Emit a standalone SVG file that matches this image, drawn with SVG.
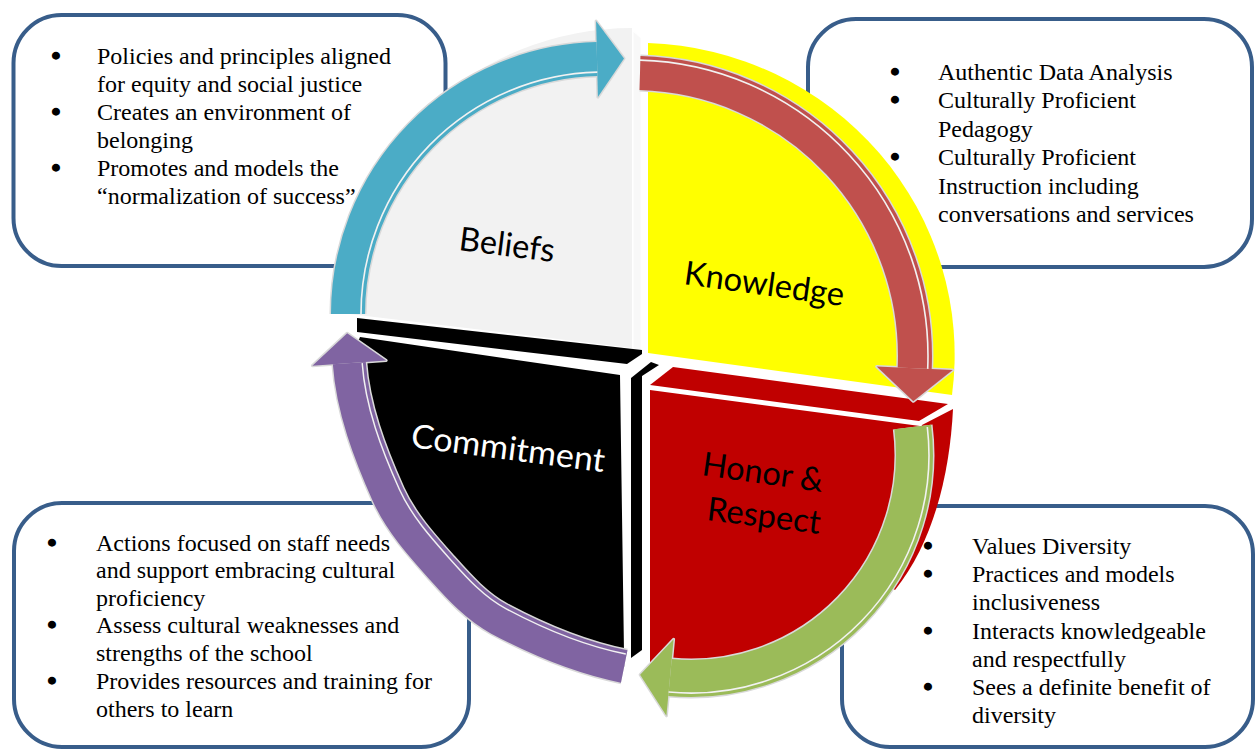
<svg xmlns="http://www.w3.org/2000/svg" width="1256" height="751" viewBox="0 0 1256 751">
<defs>
<style>
.box{fill:#FFFFFF;stroke:#385D8A;stroke-width:4}
.bt{font-family:"Liberation Serif","Times New Roman",serif;font-size:24px;fill:#000000}
.bu{font-family:"Liberation Serif","Times New Roman",serif;font-size:24px;fill:#000000;stroke:#000000;stroke-width:2.4;stroke-linejoin:round;text-anchor:middle}
.lbl{font-family:Lato,"Open Sans","DejaVu Sans",sans-serif;font-size:33px}
.ol{fill:none;stroke:#D9D9D9}
.olh{fill:#D9D9D9;stroke:#D9D9D9;stroke-width:3;stroke-linejoin:round}
.hl{fill:none;stroke:#F2F2F2;stroke-width:1.6}
</style>
</defs>
<rect x="0" y="0" width="1256" height="751" fill="#FFFFFF"/>

<g id="box-beliefs">
<rect class="box" x="13.5" y="15" width="432" height="251" rx="48"/>
<text class="bu"><tspan x="56" y="64">•</tspan><tspan x="56" y="120">•</tspan><tspan x="56" y="176">•</tspan></text>
<text class="bt" x="97" y="64">Policies and principles aligned</text>
<text class="bt" x="97" y="92">for equity and social justice</text>
<text class="bt" x="97" y="120">Creates an environment of</text>
<text class="bt" x="97" y="148">belonging</text>
<text class="bt" x="97" y="176">Promotes and models the</text>
<text class="bt" x="97" y="204">“normalization of success”</text>
</g>

<g id="box-knowledge">
<rect class="box" x="808" y="19" width="444" height="248" rx="48"/>
<text class="bu"><tspan x="895" y="80">•</tspan><tspan x="895" y="108">•</tspan><tspan x="895" y="165">•</tspan></text>
<text class="bt" x="938" y="80">Authentic Data Analysis</text>
<text class="bt" x="938" y="108">Culturally Proficient</text>
<text class="bt" x="938" y="137">Pedagogy</text>
<text class="bt" x="938" y="165">Culturally Proficient</text>
<text class="bt" x="938" y="194">Instruction including</text>
<text class="bt" x="938" y="222">conversations and services</text>
</g>

<g id="box-commitment">
<rect class="box" x="14" y="503" width="455" height="244" rx="48"/>
<text class="bu"><tspan x="52" y="550.5">•</tspan><tspan x="52" y="633">•</tspan><tspan x="52" y="689">•</tspan></text>
<text class="bt" x="96" y="550.5">Actions focused on staff needs</text>
<text class="bt" x="96" y="578">and support embracing cultural</text>
<text class="bt" x="96" y="605.5">proficiency</text>
<text class="bt" x="96" y="633">Assess cultural weaknesses and</text>
<text class="bt" x="96" y="661">strengths of the school</text>
<text class="bt" x="96" y="689">Provides resources and training for</text>
<text class="bt" x="96" y="716.5">others to learn</text>
</g>

<g id="box-honor">
<rect class="box" x="842" y="506" width="411" height="241" rx="48"/>
<text class="bu"><tspan x="928" y="554">•</tspan><tspan x="928" y="582">•</tspan><tspan x="928" y="639">•</tspan><tspan x="928" y="695">•</tspan></text>
<text class="bt" x="972" y="554">Values Diversity</text>
<text class="bt" x="972" y="582">Practices and models</text>
<text class="bt" x="972" y="610">inclusiveness</text>
<text class="bt" x="972" y="639">Interacts knowledgeable</text>
<text class="bt" x="972" y="667">and respectfully</text>
<text class="bt" x="972" y="695">Sees a definite benefit of</text>
<text class="bt" x="972" y="723">diversity</text>
</g>

<g id="node-beliefs">
<path d="M 632 348 L 333 312 A 300 300 0 0 1 632 28 Z" fill="#F2F2F2"/>
<polygon points="633,31 641,38 641,352 633,348" fill="#F8F8F8" stroke="#FFFFFF" stroke-width="1"/>
<text class="lbl" x="458" y="250" transform="rotate(7.2 458 250)" textLength="96" lengthAdjust="spacingAndGlyphs" fill="#000000">Beliefs</text>
</g>

<g id="node-knowledge">
<path d="M 648 353 L 648 43 A 318 312 0 0 1 952 395 Z" fill="#FFFF00"/>
<text class="lbl" x="683" y="284" transform="rotate(7.9 683 284)" textLength="161" lengthAdjust="spacingAndGlyphs" fill="#000000">Knowledge</text>
</g>

<g id="node-commitment">
<polygon points="357,318 642,350 642,354 627,364 357,332" fill="#000000"/>
<polygon points="631,378 651,362 659,365 642,376 642,650 631,658" fill="#000000"/>
<path d="M 360 337 L 620 375 L 624.2 666.5 C 580.6 657.7 538.3 640.1 499 619.1 C 476.5 606.9 459.2 587.9 442.2 568.8 C 422 546.2 400.6 522.6 388.1 494.9 C 369.5 453.4 352.5 408.5 349.3 363.1 Z" fill="#000000"/>
<text class="lbl" x="410" y="447" transform="rotate(7.4 410 447)" textLength="195" lengthAdjust="spacingAndGlyphs" fill="#FFFFFF">Commitment</text>
</g>

<g id="node-honor">
<polygon points="650,385 673,367 948,404 919,421" fill="#C00000"/>
<path d="M 922 425 L 953 409 C 950 470 935 540 895 590 L 880 580 Z" fill="#C00000"/>
<path d="M 650 390 L 920 426 A 226 226 0 0 1 650 674 Z" fill="#C00000"/>
<text class="lbl" x="701" y="475" transform="rotate(8 701 475)" textLength="122" lengthAdjust="spacingAndGlyphs" fill="#000000">Honor &amp;</text>
<text class="lbl" x="706" y="520" transform="rotate(7 706 520)" textLength="114" lengthAdjust="spacingAndGlyphs" fill="#000000">Respect</text>
</g>

<g id="connectors">
<g id="arrow-beliefs-knowledge">
<path class="ol" d="M 348 314 A 255 255 0 0 1 597 59.1" stroke-width="37"/>
<polygon class="olh" points="596.1,21.1 624,58.5 597.9,97.1"/>
<path d="M 348 314 A 255 255 0 0 1 597 59.1" fill="none" stroke="#4BACC6" stroke-width="34"/>
<polygon points="596.1,21.1 624,58.5 597.9,97.1" fill="#4BACC6"/>
<path class="hl" d="M 361 314 A 242 242 0 0 1 597.3 72.1"/>
</g>
<g id="arrow-knowledge-honor">
<path class="ol" d="M 640 73.1 A 283 283 0 0 1 914.7 368.3" stroke-width="37"/>
<polygon class="olh" points="952.7,370 913.3,401.3 876.7,366.6"/>
<path d="M 640 73.1 A 283 283 0 0 1 914.7 368.3" fill="none" stroke="#C0504D" stroke-width="34"/>
<polygon points="952.7,370 913.3,401.3 876.7,366.6" fill="#C0504D"/>
<path class="hl" d="M 640 60.1 A 296 296 0 0 1 927.7 368.9"/>
</g>
<g id="arrow-honor-commitment">
<path class="ol" d="M 912.7 427 A 223.5 223.5 0 0 1 670 677.5" stroke-width="40"/>
<polygon class="olh" points="673.6,639.2 640.1,674.7 666.4,715.8"/>
<path d="M 912.7 427 A 223.5 223.5 0 0 1 670 677.5" fill="none" stroke="#9BBB59" stroke-width="37"/>
<polygon points="673.6,639.2 640.1,674.7 666.4,715.8" fill="#9BBB59"/>
<path class="hl" d="M 927.3 427 A 238 238 0 0 1 668.6 692"/>
</g>
<g id="arrow-commitment-beliefs">
<path class="ol" d="M 624.2 666.5 C 580.6 657.7 538.3 640.1 499 619.1 C 476.5 606.9 459.2 587.9 442.2 568.8 C 422 546.2 400.6 522.6 388.1 494.9 C 369.5 453.4 352.5 408.5 349.3 363.1" stroke-width="36"/>
<polygon class="olh" points="312.4,365.7 347.2,333.2 386.2,360.5"/>
<path d="M 624.2 666.5 C 580.6 657.7 538.3 640.1 499 619.1 C 476.5 606.9 459.2 587.9 442.2 568.8 C 422 546.2 400.6 522.6 388.1 494.9 C 369.5 453.4 352.5 408.5 349.3 363.1" fill="none" stroke="#8064A2" stroke-width="33"/>
<polygon points="312.4,365.7 347.2,333.2 386.2,360.5" fill="#8064A2"/>
<path class="hl" transform="matrix(0.909 0 0 0.909 60.4 33.2)" stroke-width="1.76" d="M 622 683 C 576 673.8 531.4 655.2 490 633 C 466.2 620.2 448 600.1 430 580 C 408.7 556.1 386.2 531.2 373 502 C 353.3 458.3 335.4 410.9 332 363"/>
</g>
</g>
</svg>
